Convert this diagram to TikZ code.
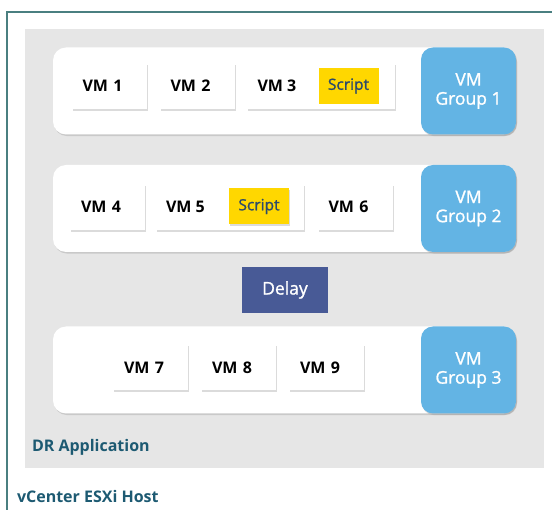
\documentclass[tikz,border=0pt]{standalone}
\usepackage{fontspec}
\setmainfont{Open Sans}
\newfontfamily\semibold[FakeBold=1.2]{Open Sans}
\usepackage{tikz}
\usetikzlibrary{positioning,shadows}

\definecolor{hostteal}{HTML}{4A7F80}
\definecolor{appgray}{HTML}{E6E6E6}
\definecolor{groupblue}{HTML}{63B4E4}
\definecolor{delayblue}{HTML}{485A96}
\definecolor{scriptyellow}{HTML}{FFD700}
\definecolor{scripttext}{HTML}{2B4A6B}
\definecolor{labelteal}{HTML}{1D5A72}

\begin{document}
\begin{tikzpicture}[
        x=1pt,
        y=-1pt,
        every node/.style={inner sep=0pt, outer sep=0pt},
        soft/.style={
            drop shadow={opacity=0.28, shadow xshift=1pt, shadow yshift=-1.6pt}
        },
        row/.style={
            rectangle,
            rounded corners=13pt,
            fill=white,
            soft,
            minimum width=463pt,
            minimum height=87pt
        },
        group/.style={
            rectangle,
            rounded corners=12pt,
            fill=groupblue,
            soft,
            text=white,
            align=center,
            minimum width=95pt,
            minimum height=87pt,
            font=\semibold\fontsize{17.5}{19}\selectfont
        },
        vm/.style={
            rectangle,
            fill=white,
            soft,
            inner xsep=11pt,
            text width=53pt,
            align=left,
            minimum height=46pt,
            font=\bfseries\fontsize{16}{18}\selectfont
        },
        vmwide/.style={
            rectangle,
            fill=white,
            soft,
            minimum width=148pt,
            minimum height=46pt
        },
        vmlabel/.style={
            anchor=west,
            font=\bfseries\fontsize{16}{18}\selectfont
        },
        script/.style={
            rectangle,
            fill=scriptyellow,
            text=scripttext,
            minimum width=60pt,
            minimum height=36pt,
            font=\semibold\fontsize{15.5}{18}\selectfont
        },
        delay/.style={
            rectangle,
            fill=delayblue,
            text=white,
            minimum width=86pt,
            minimum height=46pt,
            font=\semibold\fontsize{17.5}{19}\selectfont
        },
        caption/.style={
            anchor=west,
            text=labelteal,
            font=\bfseries\fontsize{16}{19}\selectfont
        }
    ]

    \useasboundingbox (0,0) rectangle (552,510);

    % host frame and application area
    \draw[hostteal, line width=2.2pt] (7,530) -- (7,12) -- (570,12);
    \fill[appgray] (25,29) rectangle (544,468);

    % group rows
    \node[row] (row1) at (284.5,91) {};
    \node[row] (row2) at (284.5,208.5) {};
    \node[row] (row3) at (284.5,370) {};

    \node[group] (grp1) at (468.5,91) {VM\\Group 1};
    \node[group] (grp2) at (468.5,208.5) {VM\\Group 2};
    \node[group] (grp3) at (468.5,370) {VM\\Group 3};

    % group 1
    \node[vm] (vm1) at (109,86) {VM 1};
    \node[vm] (vm2) at (197,86) {VM 2};
    \node[vmwide] (vm3) at (320.5,86) {};
    \node[vmlabel] (vm3lbl) at ([xshift=11pt]vm3.west) {VM 3};
    \node[script] (script1) at (348.5,86) {Script};

    % group 2
    \node[vm] (vm4) at (107.5,207) {VM 4};
    \node[vmwide] (vm5) at (230,207) {};
    \node[vmlabel] (vm5lbl) at ([xshift=10pt]vm5.west) {VM 5};
    \node[script, soft] (script2) at (259,206.5) {Script};
    \node[vm] (vm6) at (355,207) {VM 6};

    % delay
    \node[delay] (delay) at (285,290) {Delay};

    % group 3
    \node[vm] (vm7) at (150.5,367.5) {VM 7};
    \node[vm] (vm8) at (238.5,367.5) {VM 8};
    \node[vm] (vm9) at (326.5,367.5) {VM 9};

    % captions
    \node[caption] (app) at (32,447) {DR Application};
    \node[caption] (host) at (17,497) {vCenter ESXi Host};

\end{tikzpicture}
\end{document}
